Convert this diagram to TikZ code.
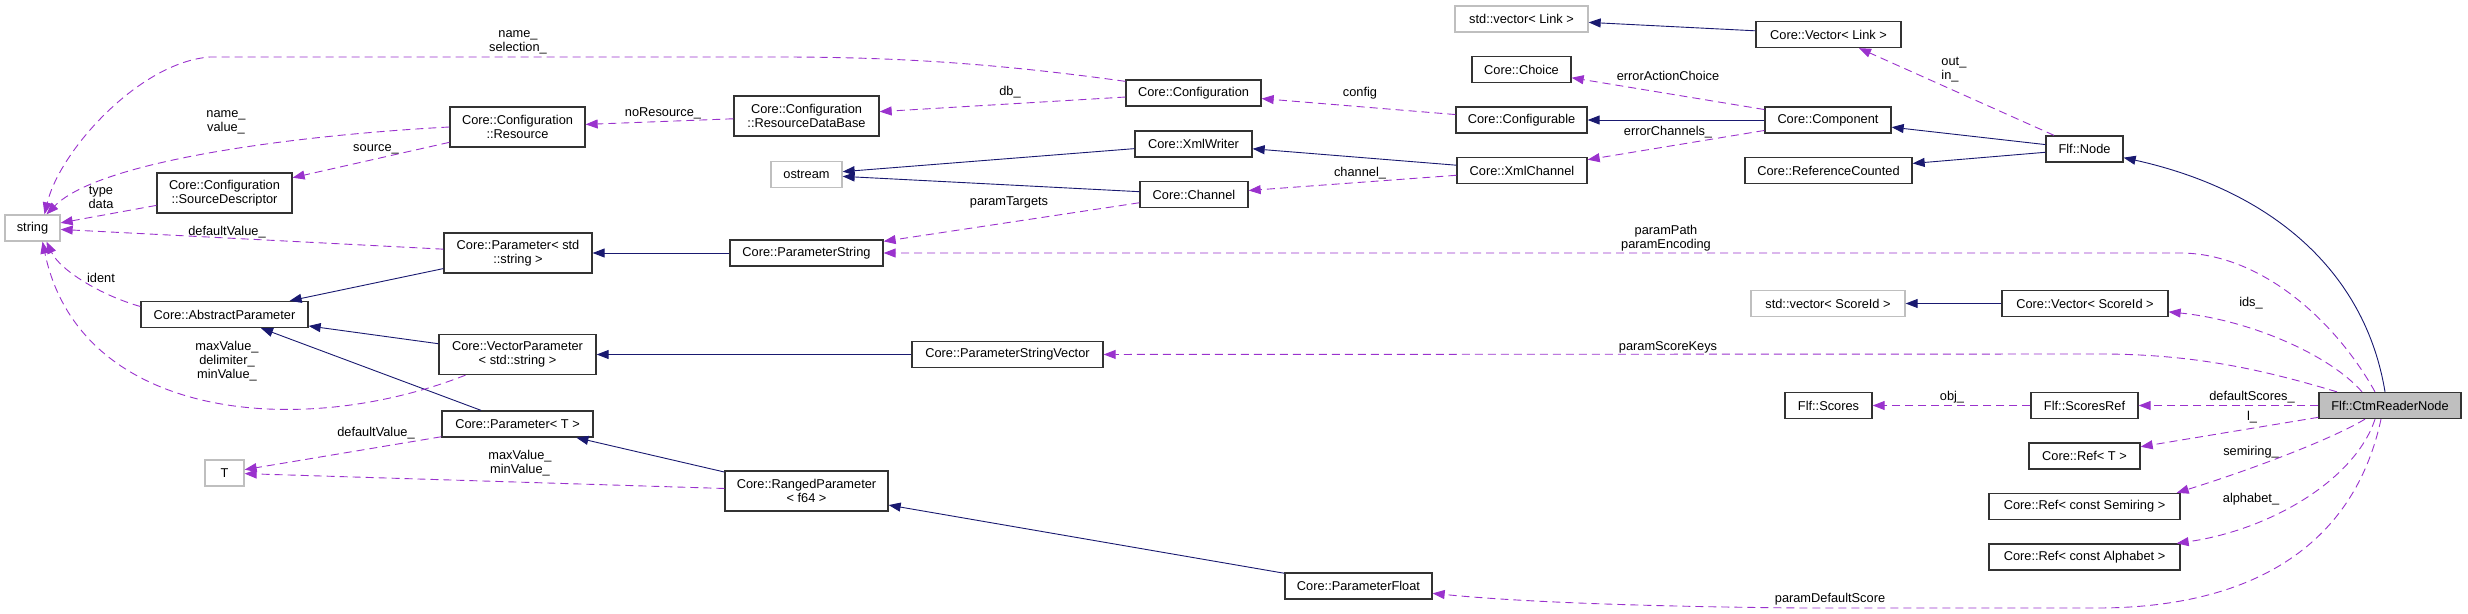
\documentclass[tikz,border=0pt]{standalone}
\usepackage{fontspec}
\setmainfont{Liberation Sans}
\usetikzlibrary{arrows.meta}
\definecolor{inhblue}{HTML}{191970}
\definecolor{usepurple}{HTML}{9A32CD}
\definecolor{extgray}{HTML}{BFBFBF}

\begin{document}
\begin{tikzpicture}[x=1pt, y=-1pt,
    cls/.style={draw=black!80, fill=white, line width=1.3pt, minimum height=26pt, inner xsep=3pt, inner ysep=5pt, align=center, font=\fontsize{12.8}{14}\selectfont},
    cls2/.style={cls, minimum height=40pt},
    ext/.style={cls, draw=extgray},
    focus/.style={cls, fill=extgray},
    inh/.style={-{Triangle[length=12pt,width=9pt]}, draw=inhblue, line width=0.9pt},
    use/.style={-{Triangle[length=12pt,width=9pt]}, draw=usepurple, line width=0.9pt, dash pattern=on 8pt off 5pt},
    lbl/.style={inner sep=0pt, align=center, font=\fontsize{12.8}{14}\selectfont}
]
    \useasboundingbox (0,0) rectangle (2468,613);

    % Classes
    \node[ext, minimum width=55pt] (string) at (32.5,228) {string};
    \node[cls2, minimum width=135pt] (sourcedesc) at (224.5,193) {Core::Configuration\\::SourceDescriptor};
    \node[cls2, minimum width=135pt] (resource) at (517.5,127) {Core::Configuration\\::Resource};
    \node[cls2, minimum width=148pt] (paramstd) at (518,253) {Core::Parameter< std\\::string >};
    \node[cls, minimum width=167pt] (abstractparam) at (224.5,314.5) {Core::AbstractParameter};
    \node[cls2, minimum width=157pt] (vectorparam) at (517.5,354.5) {Core::VectorParameter\\< std::string >};
    \node[cls, minimum width=151pt] (paramT) at (517.5,424) {Core::Parameter< T >};
    \node[ext, minimum width=39pt] (T) at (224.5,473) {T};

    \node[cls2, minimum width=145pt] (rdb) at (806.5,116) {Core::Configuration\\::ResourceDataBase};
    \node[ext, minimum width=71pt] (ostream) at (806.5,174.5) {ostream};
    \node[cls, minimum width=153pt] (paramstring) at (806.5,253) {Core::ParameterString};
    \node[cls2, minimum width=163pt] (rangedparam) at (806.5,491) {Core::RangedParameter\\< f64 >};
    \node[cls, minimum width=191pt] (paramstrvec) at (1007.5,354.5) {Core::ParameterStringVector};

    \node[cls, minimum width=135pt] (configuration) at (1193.5,93) {Core::Configuration};
    \node[cls, minimum width=117pt] (xmlwriter) at (1193.5,144) {Core::XmlWriter};
    \node[cls, minimum width=108pt] (channel) at (1194,194.5) {Core::Channel};
    \node[cls, minimum width=147pt] (paramfloat) at (1358.5,586) {Core::ParameterFloat};

    \node[ext, minimum width=133pt] (stdvectorlink) at (1521.5,19) {std::vector< Link >};
    \node[cls, minimum width=99pt] (choice) at (1521.5,69.5) {Core::Choice};
    \node[cls, minimum width=131pt] (configurable) at (1521.5,120) {Core::Configurable};
    \node[cls, minimum width=130pt] (xmlchannel) at (1522,170.5) {Core::XmlChannel};

    \node[cls, minimum width=145pt] (vectorlink) at (1828.5,34.5) {Core::Vector< Link >};
    \node[cls, minimum width=126pt] (component) at (1828,120) {Core::Component};
    \node[cls, minimum width=167pt] (refcounted) at (1828.5,170.5) {Core::ReferenceCounted};
    \node[ext, minimum width=154pt] (stdvectorscoreid) at (1828,303.5) {std::vector< ScoreId >};
    \node[cls, minimum width=87pt] (scores) at (1828.5,405.5) {Flf::Scores};

    \node[cls, minimum width=77pt] (flfnode) at (2084.5,149) {Flf::Node};
    \node[cls, minimum width=166pt] (vectorscoreid) at (2085,303.5) {Core::Vector< ScoreId >};
    \node[cls, minimum width=107pt] (scoresref) at (2084.5,405.5) {Flf::ScoresRef};
    \node[cls, minimum width=111pt] (refT) at (2084.5,456) {Core::Ref< T >};
    \node[cls, minimum width=191pt] (refsemiring) at (2084.5,506.5) {Core::Ref< const Semiring >};
    \node[cls, minimum width=191pt] (refalphabet) at (2084.5,557) {Core::Ref< const Alphabet >};

    \node[focus, minimum width=142pt] (ctmreader) at (2390,405.5) {Flf::CtmReaderNode};

    % Inheritance
    \draw[inh] (paramstring) -- (paramstd);
    \draw[inh] (paramstd) -- (abstractparam);
    \draw[inh] (vectorparam) -- (abstractparam);
    \draw[inh] (paramT) -- (abstractparam);
    \draw[inh] (paramstrvec) -- (vectorparam);
    \draw[inh] (rangedparam) -- (paramT);
    \draw[inh] (paramfloat) -- (rangedparam);
    \draw[inh] (xmlwriter) -- (ostream);
    \draw[inh] (channel) -- (ostream);
    \draw[inh] (xmlchannel) -- (xmlwriter);
    \draw[inh] (component) -- (configurable);
    \draw[inh] (flfnode) -- (component);
    \draw[inh] (flfnode) -- (refcounted);
    \draw[inh] (vectorlink) -- (stdvectorlink);
    \draw[inh] (vectorscoreid) -- (stdvectorscoreid);
    \draw[inh] ([xshift=-5pt]ctmreader.north) .. controls (2365,270) and (2270,190) .. (flfnode);

    % Usage
    \draw[use] ([yshift=-2pt]configuration.north west) .. controls (1000,64) and (900,57) .. (780,57) -- (210,57)
        node[lbl, at={(518,42)}] {name\_\\selection\_}
        .. controls (140,62) and (60,150) .. ([xshift=12pt]string.north);
    \draw[use] (resource.west) .. controls (300,135) and (100,160) .. ([xshift=14pt]string.north)
        node[lbl, at={(226,122)}] {name\_\\value\_};
    \draw[use] (resource) -- (sourcedesc) node[lbl, at={(376,149)}] {source\_};
    \draw[use] (sourcedesc) -- (string) node[lbl, at={(101,197)}] {type\\data};
    \draw[use] (paramstd) -- (string) node[lbl, at={(227,232)}] {defaultValue\_};
    \draw[use] ([yshift=8pt]abstractparam.west) .. controls (100,295) and (60,270) .. ([xshift=14pt]string.south)
        node[lbl, at={(101,278)}] {ident};
    \draw[use] ([xshift=-52pt]vectorparam.south) .. controls (300,440) and (80,420) .. ([xshift=10pt]string.south)
        node[lbl, at={(227,361)}] {maxValue\_\\delimiter\_\\minValue\_};
    \draw[use] (paramT) -- (T) node[lbl, at={(376,433)}] {defaultValue\_};
    \draw[use] (rangedparam) -- (T) node[lbl, at={(520,463)}] {maxValue\_\\minValue\_};
    \draw[use] (rdb) -- (resource) node[lbl, at={(663,113)}] {noResource\_};
    \draw[use] (configuration) -- (rdb) node[lbl, at={(1010,92)}] {db\_};
    \draw[use] (configurable) -- (configuration) node[lbl, at={(1360,93)}] {config};
    \draw[use] (component) -- (choice) node[lbl, at={(1668,76)}] {errorActionChoice};
    \draw[use] (component) -- (xmlchannel) node[lbl, at={(1668,132)}] {errorChannels\_};
    \draw[use] (xmlchannel) -- (channel) node[lbl, at={(1360,173)}] {channel\_};
    \draw[use] (channel) -- (paramstring) node[lbl, at={(1009,202)}] {paramTargets};
    \draw[use] (flfnode) -- (vectorlink) node[lbl, align=left, anchor=west, at={(1941,70)}] {out\_\\in\_};
    \draw[use] ([xshift=-15pt]ctmreader.north) .. controls (2335,320) and (2260,253) .. (2180,253) -- (paramstring)
        node[lbl, at={(1666,238)}] {paramPath\\paramEncoding};
    \draw[use] ([xshift=-28pt]ctmreader.north) .. controls (2330,355) and (2250,320) .. (vectorscoreid)
        node[lbl, at={(2251,303)}] {ids\_};
    \draw[use] ([xshift=-53pt]ctmreader.north) .. controls (2270,372) and (2200,354) .. (2100,354) -- (paramstrvec)
        node[lbl, at={(1668,347)}] {paramScoreKeys};
    \draw[use] (ctmreader) -- (scoresref) node[lbl, at={(2252,397)}] {defaultScores\_};
    \draw[use] (scoresref) -- (scores) node[lbl, at={(1952,397)}] {obj\_};
    \draw[use] (ctmreader) -- (refT) node[lbl, at={(2252,417)}] {l\_};
    \draw[use] ([xshift=-25pt]ctmreader.south) .. controls (2330,440) and (2250,470) .. ([xshift=-4pt]refsemiring.north east)
        node[lbl, at={(2251,452)}] {semiring\_};
    \draw[use] ([xshift=-15pt]ctmreader.south) .. controls (2355,480) and (2270,530) .. ([xshift=-4pt]refalphabet.north east)
        node[lbl, at={(2251,499)}] {alphabet\_};
    \draw[use] ([xshift=-9pt]ctmreader.south) .. controls (2355,540) and (2260,607) .. (2100,608) -- (1800,608)
        .. controls (1600,606) and (1500,600) .. (paramfloat)
        node[lbl, at={(1830,599)}] {paramDefaultScore};
\end{tikzpicture}
\end{document}
